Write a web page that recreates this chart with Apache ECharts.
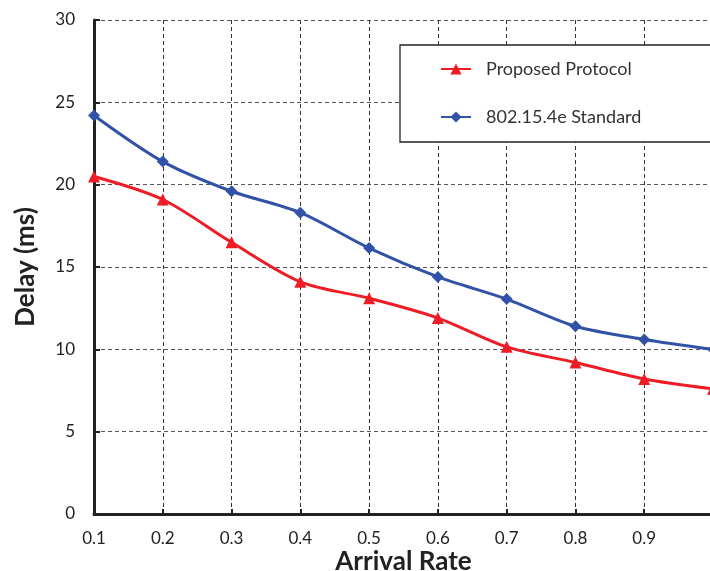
<!DOCTYPE html>
<html><head><meta charset="utf-8">
<script src="https://cdn.jsdelivr.net/npm/echarts@6/dist/echarts.min.js"></script>
<style>html,body{margin:0;padding:0;background:#fff}#c{width:710px;height:571px}</style>
</head><body><div id="c"></div>
<script>
var categories = ['0.1','0.2','0.3','0.4','0.5','0.6','0.7','0.8','0.9','1.0'];
var proposed = [20.5, 19.1, 16.5, 14.1, 13.1, 11.9, 10.15, 9.2, 8.2, 7.6];
var standard = [24.2, 21.4, 19.6, 18.3, 16.15, 14.4, 13.05, 11.4, 10.6, 10.0];
var yTicks = [0, 5, 10, 15, 20, 25, 30];

var font = 'Lato, "Open Sans", sans-serif';
var chart = echarts.init(document.getElementById('c'), null, {renderer: 'canvas'});
chart.setOption({
  animation: false,
  backgroundColor: '#fff',
  grid: {left: 94, top: 20, width: 619, height: 494, containLabel: false, outerBoundsMode: 'none'},
  legend: {
    orient: 'vertical', left: 400, top: 45,
    backgroundColor: '#fff', borderColor: '#222', borderWidth: 1.3,
    padding: [15, 80, 16, 40], itemGap: 30, itemWidth: 30, itemHeight: 14,
    textStyle: {fontFamily: font, fontSize: 18, color: '#333', padding: [0, 0, 0, 10]},
    data: ['Proposed Protocol', '802.15.4e Standard']
  },
  xAxis: {
    type: 'category', data: categories, boundaryGap: false,
    name: 'Arrival Rate', nameLocation: 'middle', nameGap: 35, nameMoveOverlap: false,
    nameTextStyle: {fontFamily: font, fontSize: 26, fontWeight: 'bold', color: '#222'},
    axisLine: {lineStyle: {color: '#222', width: 3}},
    axisTick: {inside: true, length: 5, lineStyle: {color: '#222', width: 2}},
    axisLabel: {fontFamily: font, fontSize: 17, color: '#222', margin: 16,
      formatter: function (v, i) { return i === categories.length - 1 ? '' : v; }},
    splitLine: {show: true, lineStyle: {color: '#333', type: [4, 3], width: 1}}
  },
  yAxis: {
    type: 'value', min: yTicks[0], max: yTicks[yTicks.length - 1], interval: 5,
    name: 'Delay (ms)', nameLocation: 'middle', nameGap: 55, nameMoveOverlap: false,
    nameTextStyle: {fontFamily: font, fontSize: 26, fontWeight: 'bold', color: '#222'},
    axisLine: {show: true, lineStyle: {color: '#222', width: 3}},
    axisTick: {show: true, inside: true, length: 6, lineStyle: {color: '#222', width: 2}},
    axisLabel: {fontFamily: font, fontSize: 17, color: '#222', margin: 19},
    splitLine: {show: true, lineStyle: {color: '#555', type: [4, 3], width: 1}}
  },
  series: [
    {name: 'Proposed Protocol', type: 'line', data: proposed, smooth: 0.3,
     symbol: 'triangle', symbolSize: 12, color: '#ee1c24',
     lineStyle: {width: 3}, itemStyle: {color: '#ee1c24'}, z: 3},
    {name: '802.15.4e Standard', type: 'line', data: standard, smooth: 0.3,
     symbol: 'diamond', symbolSize: 12, color: '#3152a6',
     lineStyle: {width: 3}, itemStyle: {color: '#3152a6'}, z: 3}
  ]
});
</script></body></html>
